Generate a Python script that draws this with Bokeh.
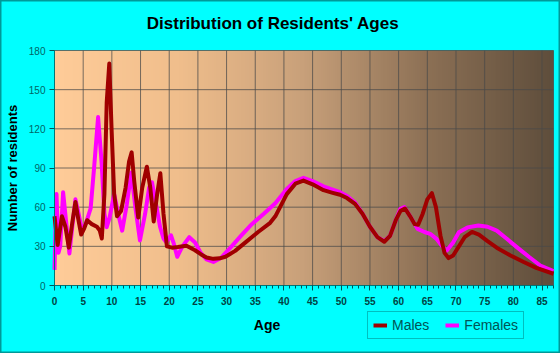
import numpy as np
from bokeh.plotting import figure
from bokeh.models import (Range1d, SingleIntervalTicker, FixedTicker, Label,
                          Legend, LegendItem)
from bokeh.embed import file_html
from bokeh.resources import INLINE

# ---- data ----
male_age = [0, 0.55, 1.3, 1.9, 2.5, 3.1, 3.65, 4.1, 4.65, 5.2, 5.7, 6.5, 7.4, 7.9,
            8.25, 8.7, 9.1, 9.55, 9.95, 10.4, 10.9, 11.6, 12.4, 13.0, 13.45, 13.9,
            14.6, 15.3, 16.1, 16.7, 17.3, 17.9, 18.45, 19.0, 19.6, 20.5, 21.5, 23.0,
            24.5, 25.5, 26.5, 27.7, 28.8, 29.8, 31.5, 33.3, 35.5, 37.6, 38.5, 40.5,
            42, 43.4, 45, 46.9, 48.5, 49.8, 51, 52.4, 53.7, 55, 56.3, 57.5, 58.5,
            59.5, 60.3, 61.1, 62, 62.8, 63.4, 64.2, 65, 65.8, 66.5, 67.3, 68, 68.7,
            69.5, 70.5, 71.5, 72.8, 74, 75.5, 77.1, 79.5, 81.8, 84, 87]
male_val = [53, 31, 53, 45, 29, 48, 64, 52, 39, 44, 50, 47, 45, 42,
            36, 70, 140, 170, 120, 70, 53, 57, 75, 95, 102, 80,
            52, 75, 91, 75, 49, 70, 86, 55, 30, 29, 29.5, 30.5,
            27, 24, 21.5, 20.4, 20.8, 22, 26.5, 33, 41, 48, 53, 70,
            78, 80.4, 77.5, 73, 71, 69.5, 67, 62.5, 55, 45, 37, 33.5, 38,
            50, 57, 59, 53, 47, 46.5, 55, 66, 70.7, 60, 38, 25, 21,
            23, 30, 37, 41, 39, 34, 29, 23, 18, 13.5, 9]

female_age = [0, 0.15, 0.35, 0.7, 1.0, 1.5, 2.0, 2.6, 3.1, 3.65, 4.2, 4.8, 5.5, 6.3,
              6.9, 7.6, 8.2, 8.7, 9.1, 9.6, 10.4, 11.1, 11.8, 12.6, 13.4, 14.1, 14.9,
              15.8, 16.5, 17.0, 17.8, 18.4, 19.0, 19.5, 20.3, 20.8, 21.4, 22.3, 23.5,
              24.5, 25.5, 26.5, 27.7, 29, 31, 32.5, 34.4, 36.5, 38.5, 40.5, 42, 43.4,
              45, 46.9, 48.5, 49.8, 51, 52.4, 53.7, 55, 56.3, 57.5, 58.5, 59.5, 60.3,
              61.0, 62, 63.3, 64.5, 65.5, 66.6, 67.6, 68.4, 69.5, 70.5, 72, 73.9, 75.5,
              77.1, 78.8, 80.6, 82.7, 84.7, 87]
female_val = [12, 40, 70, 25, 30, 71.5, 50, 24.5, 45, 66, 55, 42, 48, 59,
              90, 129, 95, 55, 44.7, 52, 70, 55, 42, 62, 86.5, 60, 34.5,
              55, 75, 79, 60, 45, 36, 33, 38.5, 32, 22, 30, 37,
              33, 25, 20, 18, 21, 30.6, 38, 47, 55, 63, 74, 80, 82.5,
              80, 76, 73.5, 71.5, 68.5, 63.5, 55, 45, 37, 34, 38, 50, 58.7,
              60, 53, 43.4, 41, 39.6, 35.7, 30, 26.8, 33, 40.8, 44.5, 46, 45,
              42, 36, 29.4, 22, 15.3, 11]

x_ticks = list(range(0, 90, 5))
y_ticks = [0, 30, 60, 90, 120, 150, 180]
X_MAX, Y_MAX = 87, 180

# ---- layout: frame covers the whole canvas; plot area sits inside it ----
W, H = 560, 353
PL, PR, PT, PB = 54, 553, 50, 285          # plot-area pixel edges
kx = (PR - PL) / X_MAX
ky = (PB - PT) / Y_MAX
x_range = Range1d(-PL / kx, (W - PL) / kx)
y_range = Range1d(-(H - PB) / ky, Y_MAX + PT / ky)

def dx(px):
    return (px - PL) / kx

def dy(py):
    return (PB - py) / ky

p = figure(width=W, height=H, output_backend="svg", toolbar_location=None,
           x_range=x_range, y_range=y_range,
           min_border_left=0, min_border_right=0, min_border_top=0,
           min_border_bottom=0)
p.background_fill_color = "#00FFFF"
p.border_fill_color = "#00FFFF"
p.outline_line_color = "#009999"
p.outline_line_width = 2
p.grid.visible = False

# gradient background of the plot area
stops_t = [0.0, 0.25, 0.5, 0.75, 1.0]
stops_c = np.array([[255, 204, 153], [240, 190, 140], [200, 160, 122],
                    [140, 112, 85], [95, 78, 60]], dtype=float)
N = 256
t = np.linspace(0, 1, N)
rgb = np.stack([np.interp(t, stops_t, stops_c[:, k]) for k in range(3)], axis=1).astype(np.uint32)
img = np.zeros((1, N), dtype=np.uint32)
img[0, :] = (255 << 24) | (rgb[:, 2] << 16) | (rgb[:, 1] << 8) | rgb[:, 0]
p.image_rgba(image=[img], x=0, y=0, dw=X_MAX, dh=Y_MAX)

# grid lines inside the plot area
GRID = "#4a4a4a"
p.segment(x0=x_ticks, y0=[0] * len(x_ticks), x1=x_ticks, y1=[Y_MAX] * len(x_ticks),
          line_color=GRID, line_alpha=0.75, line_width=1)
p.segment(x0=[0] * len(y_ticks), y0=y_ticks, x1=[X_MAX] * len(y_ticks), y1=y_ticks,
          line_color=GRID, line_alpha=0.75, line_width=1)
p.segment(x0=[X_MAX], y0=[0], x1=[X_MAX], y1=[Y_MAX], line_color=GRID,
          line_alpha=0.75, line_width=1)

fl = p.line(female_age, female_val, line_color="#FF00FF", line_width=4,
            line_join="round")
ml = p.line(male_age, male_val, line_color="#A00000", line_width=4,
            line_join="round")

# axes drawn at the plot-area edges
p.xaxis.fixed_location = 0
p.yaxis.fixed_location = 0
p.xaxis.bounds = (0, X_MAX)
p.yaxis.bounds = (0, Y_MAX)
p.xaxis.ticker = SingleIntervalTicker(interval=5, num_minor_ticks=5)
p.yaxis.ticker = FixedTicker(ticks=y_ticks)
for ax in (p.xaxis[0], p.yaxis[0]):
    ax.axis_line_color = "#007777"
    ax.major_tick_line_color = "#005555"
    ax.minor_tick_line_color = "#005555"
    ax.major_label_text_font = "Liberation Sans"
    ax.major_label_text_font_size = "10px"
    ax.major_label_text_color = "#006666"
    ax.major_tick_out = 5
    ax.major_tick_in = 0
p.yaxis.minor_tick_line_color = None
p.yaxis.major_label_standoff = 4
p.xaxis.minor_tick_out = 3
p.xaxis.minor_tick_in = 0
p.xaxis.major_label_text_font_style = "bold"
p.xaxis.major_label_text_color = "#004444"
p.xaxis.major_label_standoff = 6

p.yaxis.axis_label = "Number of residents"
p.yaxis.axis_label_text_font = "Liberation Sans"
p.yaxis.axis_label_text_font_size = "13px"
p.yaxis.axis_label_text_font_style = "bold"
p.yaxis.axis_label_text_color = "#000000"
p.yaxis.axis_label_standoff = 6

title = Label(x=dx(272.5), y=dy(23), text="Distribution of Residents' Ages",
              text_align="center", text_baseline="middle",
              text_font="Liberation Sans", text_font_size="17px",
              text_font_style="bold", text_color="#000000")
p.add_layout(title)
xlab = Label(x=dx(266.5), y=dy(324), text="Age", text_align="center",
             text_baseline="middle", text_font="Liberation Sans",
             text_font_size="14px", text_font_style="bold", text_color="#000000")
p.add_layout(xlab)

legend = Legend(items=[LegendItem(label="Males", renderers=[ml]),
                       LegendItem(label="Females", renderers=[fl])],
                orientation="horizontal", location=(367, H - 339))
legend.background_fill_color = "#00FFFF"
legend.background_fill_alpha = 1
legend.border_line_color = "#008080"
legend.label_text_font = "Liberation Sans"
legend.label_text_font_size = "14px"
legend.label_text_color = "#005555"
legend.glyph_width = 14
legend.glyph_height = 12
legend.label_height = 12
legend.padding = 5
legend.spacing = 16
legend.margin = 0
p.add_layout(legend, "center")

open("out.html", "w").write(file_html(p, INLINE))
